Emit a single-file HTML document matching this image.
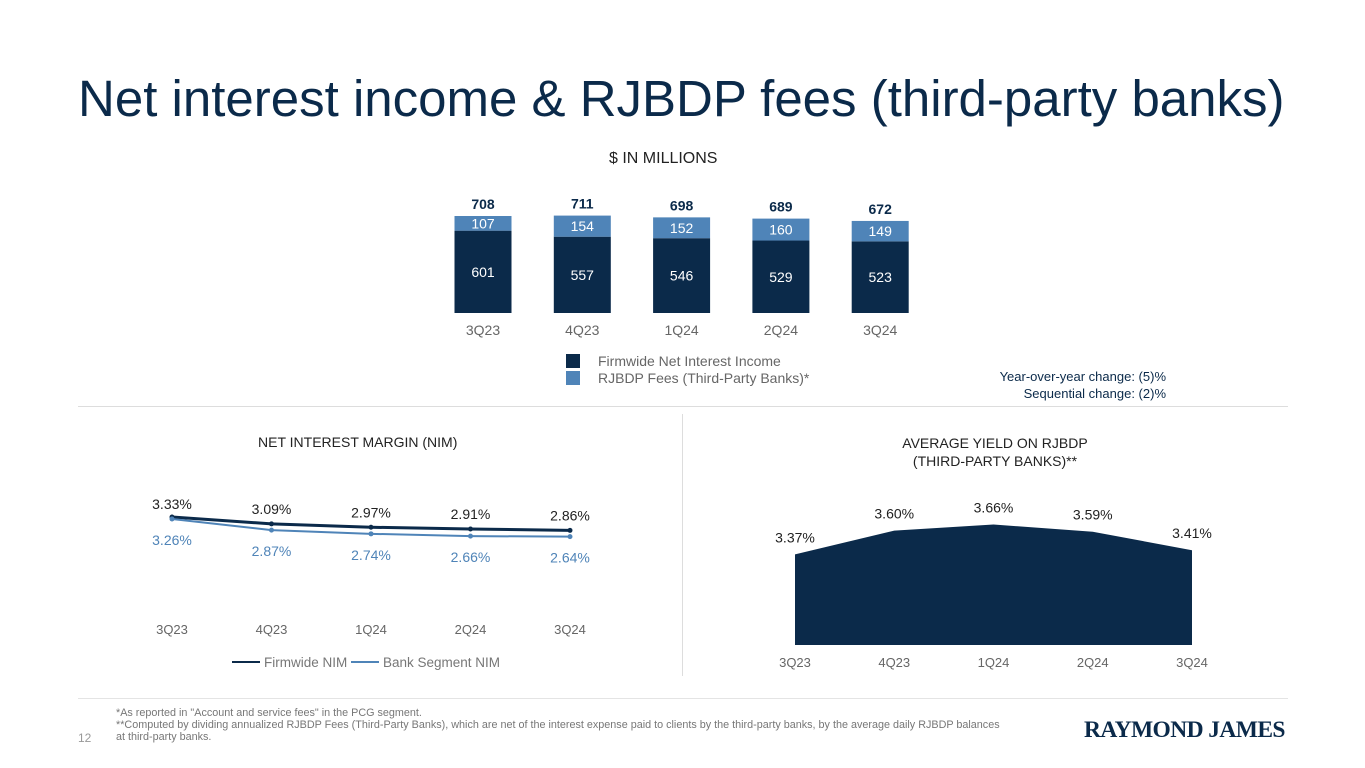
<!DOCTYPE html>
<html><head><meta charset="utf-8"><style>
body{margin:0;width:1365px;height:768px;background:#fff;font-family:"Liberation Sans",sans-serif;overflow:hidden;position:relative}
.t{position:absolute;white-space:nowrap}
svg{position:absolute;left:0;top:0}
</style></head><body>
<div class="t" style="left:78px;top:69px;font-size:51px;color:#0b2a4a">Net interest income &amp; RJBDP fees (third-party banks)</div>
<div class="t" style="left:609px;top:150px;font-size:16px;color:#222">$ IN MILLIONS</div>
<div class="t" style="left:566px;top:353px;font-size:14px;color:#666"><span style="display:inline-block;width:14px;height:14px;background:#0b2a4a;vertical-align:-2px;margin-right:18px"></span>Firmwide Net Interest Income</div>
<div class="t" style="left:566px;top:370px;font-size:14px;color:#666"><span style="display:inline-block;width:14px;height:14px;background:#4f84b8;vertical-align:-2px;margin-right:18px"></span>RJBDP Fees (Third-Party Banks)*</div>
<div class="t" style="right:199px;top:368px;font-size:13px;color:#0b2a4a;text-align:right;line-height:17px">Year-over-year change: (5)%<br>Sequential change: (2)%</div>
<div style="position:absolute;left:78px;top:406px;width:1210px;height:1px;background:#ddd"></div>
<div style="position:absolute;left:682px;top:414px;width:1px;height:262px;background:#ddd"></div>
<div style="position:absolute;left:78px;top:698px;width:1210px;height:1px;background:#e4e4e4"></div>
<div class="t" style="left:258px;top:434px;font-size:14px;color:#222">NET INTEREST MARGIN (NIM)</div>
<div class="t" style="left:860px;top:434px;font-size:14px;color:#222;text-align:center;line-height:18px;width:270px">AVERAGE YIELD ON RJBDP<br>(THIRD-PARTY BANKS)**</div>
<div class="t" style="left:232px;top:655px;font-size:13.5px;color:#777"><span style="display:inline-block;width:28px;height:2px;background:#0b2a4a;vertical-align:4px;margin-right:4px"></span>Firmwide NIM <span style="display:inline-block;width:28px;height:2px;background:#4f84b8;vertical-align:4px;margin-right:4px"></span>Bank Segment NIM</div>
<div class="t" style="left:116px;top:707px;font-size:10.8px;color:#777;line-height:12px">*As reported in "Account and service fees" in the PCG segment.<br>**Computed by dividing annualized RJBDP Fees (Third-Party Banks), which are net of the interest expense paid to clients by the third-party banks, by the average daily RJBDP balances<br>at third-party banks.</div>
<div class="t" style="left:78px;top:731px;font-size:12px;color:#999">12</div>
<div class="t" style="left:1084px;top:717px;font-family:'Liberation Serif',serif;font-weight:bold;font-size:23.5px;color:#0b2a4a;letter-spacing:-0.6px">RAYMOND JAMES</div>
<svg id="c" width="1365" height="768"></svg>
<script>
const cats=["3Q23","4Q23","1Q24","2Q24","3Q24"];
const nii=[601,557,546,529,523];
const fees=[107,154,152,160,149];
const firmNim=[3.33,3.09,2.97,2.91,2.86];
const bankNim=[3.26,2.87,2.74,2.66,2.64];
const yields=[3.37,3.60,3.66,3.59,3.41];
const NS="http://www.w3.org/2000/svg",svg=document.getElementById("c");
function mk(t,a,txt){const e=document.createElementNS(NS,t);for(const k in a)e.setAttribute(k,a[k]);if(txt!==undefined)e.textContent=txt;svg.appendChild(e);return e;}
const bx=i=>483+i*99.3, by=v=>313-v*0.137;
cats.forEach((c,i)=>{
 const x=bx(i)-28.5;
 let r=mk("rect",{x:x,y:by(nii[i]),width:57,height:313-by(nii[i]),fill:"#0b2a4a"});
 
 r=mk("rect",{x:x,y:by(nii[i]+fees[i]),width:57,height:by(nii[i])-by(nii[i]+fees[i]),fill:"#4f84b8"});
 
 mk("text",{x:bx(i),y:(by(nii[i])+313)/2+5,"text-anchor":"middle","font-size":14,fill:"#fff"},nii[i]);
 mk("text",{x:bx(i),y:(by(nii[i])+by(nii[i]+fees[i]))/2+5,"text-anchor":"middle","font-size":14,fill:"#fff"},fees[i]);
 mk("text",{x:bx(i),y:by(nii[i]+fees[i])-7,"text-anchor":"middle","font-size":14,"font-weight":"bold",fill:"#0b2a4a"},nii[i]+fees[i]);
 mk("text",{x:bx(i),y:335,"text-anchor":"middle","font-size":14,fill:"#666"},c);
});
const lx=i=>172+i*99.5, ly=v=>517-(v-3.33)*28.5;
[[firmNim,"#0b2a4a",3,-10,"#222"],[bankNim,"#4f84b8",2,26,"#4f84b8"]].forEach(([d,col,w,off,tc],s)=>{
 const p=mk("polyline",{points:d.map((v,i)=>lx(i)+","+ly(v)).join(" "),fill:"none",stroke:col,"stroke-width":w});
 
 d.forEach((v,i)=>{mk("circle",{cx:lx(i),cy:ly(v),r:2.5,fill:col});
  mk("text",{x:lx(i),y:ly(v)+off-(s==0&&i==0?-2:0),"text-anchor":"middle","font-size":14,fill:tc},v.toFixed(2)+"%");});
});
cats.forEach((c,i)=>mk("text",{x:lx(i),y:634,"text-anchor":"middle","font-size":13,fill:"#666"},c));
const ax=i=>795+i*99.25, ay=v=>645-(v-2.49)*103;
const a=mk("polygon",{points:ax(0)+",645 "+yields.map((v,i)=>ax(i)+","+ay(v)).join(" ")+" "+ax(4)+",645",fill:"#0b2a4a"});

yields.forEach((v,i)=>mk("text",{x:ax(i),y:ay(v)-12,"text-anchor":"middle","font-size":14,fill:"#222"},v.toFixed(2)+"%"));
cats.forEach((c,i)=>mk("text",{x:ax(i),y:667,"text-anchor":"middle","font-size":13,fill:"#666"},c));
</script>
</body></html>
